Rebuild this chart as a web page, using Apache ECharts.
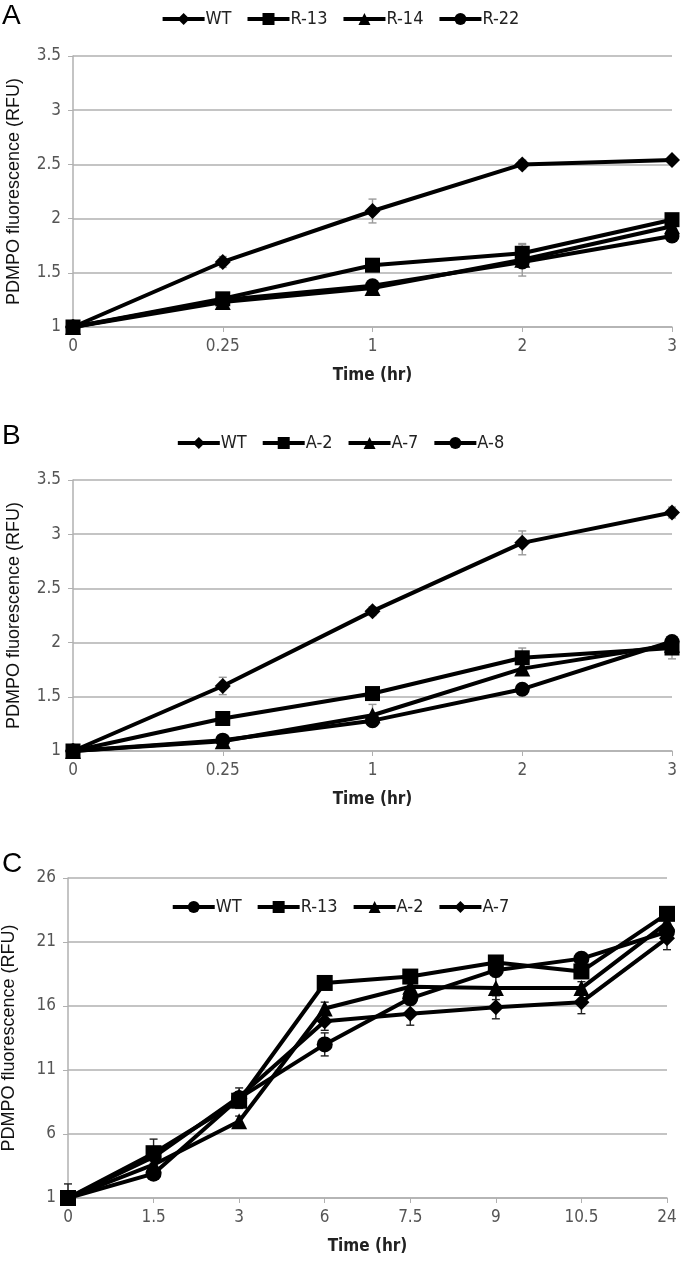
<!DOCTYPE html>
<html>
<head>
<meta charset="utf-8">
<script src="https://cdn.jsdelivr.net/npm/echarts@6/dist/echarts.min.js"></script>
<style>
  html, body { margin: 0; padding: 0; background: #fff; }
  #chart { width: 680px; height: 1265px; }
</style>
</head>
<body>
<div id="chart"></div>
<script>
// x categories
var catsAB = ['0', '0.25', '1', '2', '3'];
var catsC = ['0', '1.5', '3', '6', '7.5', '9', '10.5', '24'];

// panel A
var aWT = [1, 1.6, 2.07, 2.5, 2.54];
var aR13 = [1, 1.26, 1.57, 1.68, 1.99];
var aR14 = [1, 1.23, 1.36, 1.62, 1.93];
var aR22 = [1, 1.25, 1.38, 1.6, 1.84];
var aWTErr = [0, 0.05, 0.11, 0.04, 0.03];
var aR13Err = [0, 0.03, 0.03, 0.08, 0.03];
var aR14Err = [0, 0.03, 0.04, 0.15, 0.03];
var aR22Err = [0, 0.02, 0.03, 0.04, 0.03];

// panel B
var bWT = [1, 1.6, 2.29, 2.92, 3.2];
var bA2 = [1, 1.3, 1.53, 1.86, 1.95];
var bA7 = [1, 1.09, 1.33, 1.76, 1.98];
var bA8 = [1, 1.1, 1.28, 1.57, 2.01];
var bWTErr = [0, 0.08, 0.04, 0.11, 0.05];
var bA2Err = [0, 0.03, 0.03, 0.09, 0.1];
var bA7Err = [0, 0.03, 0.1, 0.04, 0.04];
var bA8Err = [0, 0.03, 0.03, 0.03, 0.04];

// panel C
var cWT = [1, 2.9, 8.8, 13.0, 16.6, 18.8, 19.7, 21.8];
var cR13 = [1, 4.5, 8.6, 17.8, 18.3, 19.4, 18.7, 23.2];
var cA2 = [1, 3.6, 7.0, 15.8, 17.5, 17.4, 17.4, 22.5];
var cA7 = [1, 4.2, 8.9, 14.8, 15.4, 15.9, 16.3, 21.3];
var cWTErr = [1.1, 0.3, 0.5, 0.9, 0.5, 0.4, 0.4, 0.5];
var cR13Err = [0, 1.1, 0.6, 0.3, 0.3, 0.3, 0.5, 0.4];
var cA2Err = [0, 0.4, 0.4, 0.5, 0.4, 0.9, 0.5, 0.4];
var cA7Err = [0, 0.5, 0.7, 0.7, 0.9, 0.9, 0.9, 0.9];

var narrow = '"Liberation Sans Narrow", "DejaVu Sans Condensed", sans-serif';
var gridColor = '#b0b0b0';

var chart = echarts.init(document.getElementById('chart'));

function xAxis(idx, cats) {
  return {
    type: 'category', gridIndex: idx, data: cats, boundaryGap: false,
    name: 'Time (hr)', nameLocation: 'middle', nameGap: 40,
    nameTextStyle: { fontFamily: narrow, fontSize: 17, fontWeight: 'bold', color: '#222' },
    axisLine: { lineStyle: { color: gridColor, width: 1.5 } },
    axisTick: { show: true, length: 5, lineStyle: { color: gridColor } },
    axisLabel: { fontFamily: narrow, fontSize: 17, color: '#555', margin: 11 },
    splitLine: { show: false }
  };
}

function yAxis(idx, min, max, step) {
  return {
    type: 'value', gridIndex: idx, min: min, max: max, interval: step,
    name: 'PDMPO fluorescence (RFU)', nameLocation: 'middle', nameGap: 50,
    nameTextStyle: { fontFamily: '"Liberation Sans", Arial, sans-serif', fontSize: 18, color: '#111' },
    axisLine: { show: true, lineStyle: { color: gridColor, width: 1.5 } },
    axisTick: { show: true, length: 5, lineStyle: { color: gridColor } },
    axisLabel: { fontFamily: narrow, fontSize: 17, color: '#555', margin: 12 },
    splitLine: { lineStyle: { color: gridColor, width: 1.5 } }
  };
}

function line(name, data, idx, symbol, size) {
  return {
    name: name, type: 'line', data: data, xAxisIndex: idx, yAxisIndex: idx,
    symbol: symbol, symbolSize: size, showSymbol: true,
    lineStyle: { color: '#000', width: 4 },
    itemStyle: { color: '#000' },
    z: 3
  };
}

// error bars drawn with a custom series, lower end kept inside the plot
function errBars(idx, vals, errs, color, floor) {
  var data = [];
  for (var s = 0; s < vals.length; s++) {
    for (var i = 0; i < vals[s].length; i++) {
      if (errs[s][i] > 0) {
        data.push([i, Math.max(floor, vals[s][i] - errs[s][i]), vals[s][i] + errs[s][i]]);
      }
    }
  }
  return {
    type: 'custom', xAxisIndex: idx, yAxisIndex: idx, data: data, z: 2,
    renderItem: function (params, api) {
      var lo = api.coord([api.value(0), api.value(1)]);
      var hi = api.coord([api.value(0), api.value(2)]);
      var w = 4;
      var st = { stroke: color, lineWidth: 1.4 };
      return {
        type: 'group', children: [
          { type: 'line', shape: { x1: lo[0], y1: lo[1], x2: hi[0], y2: hi[1] }, style: st },
          { type: 'line', shape: { x1: lo[0] - w, y1: lo[1], x2: lo[0] + w, y2: lo[1] }, style: st },
          { type: 'line', shape: { x1: hi[0] - w, y1: hi[1], x2: hi[0] + w, y2: hi[1] }, style: st }
        ]
      };
    }
  };
}

function legend(names, top) {
  return {
    data: names, top: top, left: 'center', itemWidth: 42, itemHeight: 15, itemGap: 14,
    selectedMode: false,
    lineStyle: { width: 4, color: '#000' },
    formatter: function (n) { return n.split(':')[1]; },
    textStyle: { fontFamily: narrow, fontSize: 18, color: '#222', padding: [0, 0, 0, -4] }
  };
}

var option = {
  animation: false,
  graphic: [
    { type: 'text', left: 2, top: 2, style: { text: 'A', font: '28px "Liberation Sans", Arial, sans-serif', fill: '#000' } },
    { type: 'text', left: 2, top: 422, style: { text: 'B', font: '28px "Liberation Sans", Arial, sans-serif', fill: '#000' } },
    { type: 'text', left: 2, top: 850, style: { text: 'C', font: '28px "Liberation Sans", Arial, sans-serif', fill: '#000' } }
  ],
  legend: [
    legend(['A:WT', 'A:R-13', 'A:R-14', 'A:R-22'], 5),
    legend(['B:WT', 'B:A-2', 'B:A-7', 'B:A-8'], 429),
    legend(['C:WT', 'C:R-13', 'C:A-2', 'C:A-7'], 893)
  ],
  grid: [
    { left: 73, right: 8, top: 56, height: 271, outerBoundsMode: 'none' },
    { left: 73, right: 8, top: 480, height: 271, outerBoundsMode: 'none' },
    { left: 68, right: 13, top: 878, height: 320, outerBoundsMode: 'none' }
  ],
  xAxis: [xAxis(0, catsAB), xAxis(1, catsAB), xAxis(2, catsC)],
  yAxis: [yAxis(0, 1, 3.5, 0.5), yAxis(1, 1, 3.5, 0.5), yAxis(2, 1, 26, 5)],
  series: [
    errBars(0, [aWT, aR13, aR14, aR22], [aWTErr, aR13Err, aR14Err, aR22Err], '#9a9a9a', 1),
    line('A:WT', aWT, 0, 'diamond', 16),
    line('A:R-14', aR14, 0, 'triangle', 16),
    line('A:R-22', aR22, 0, 'circle', 15),
    line('A:R-13', aR13, 0, 'rect', 15),

    errBars(1, [bWT, bA2, bA7, bA8], [bWTErr, bA2Err, bA7Err, bA8Err], '#9a9a9a', 1),
    line('B:WT', bWT, 1, 'diamond', 16),
    line('B:A-7', bA7, 1, 'triangle', 16),
    line('B:A-8', bA8, 1, 'circle', 15),
    line('B:A-2', bA2, 1, 'rect', 15),

    errBars(2, [cWT, cR13, cA2, cA7], [cWTErr, cR13Err, cA2Err, cA7Err], '#222', 1),
    line('C:A-7', cA7, 2, 'diamond', 16),
    line('C:A-2', cA2, 2, 'triangle', 16),
    line('C:WT', cWT, 2, 'circle', 16),
    line('C:R-13', cR13, 2, 'rect', 16)
  ]
};

chart.setOption(option);
</script>
</body>
</html>
